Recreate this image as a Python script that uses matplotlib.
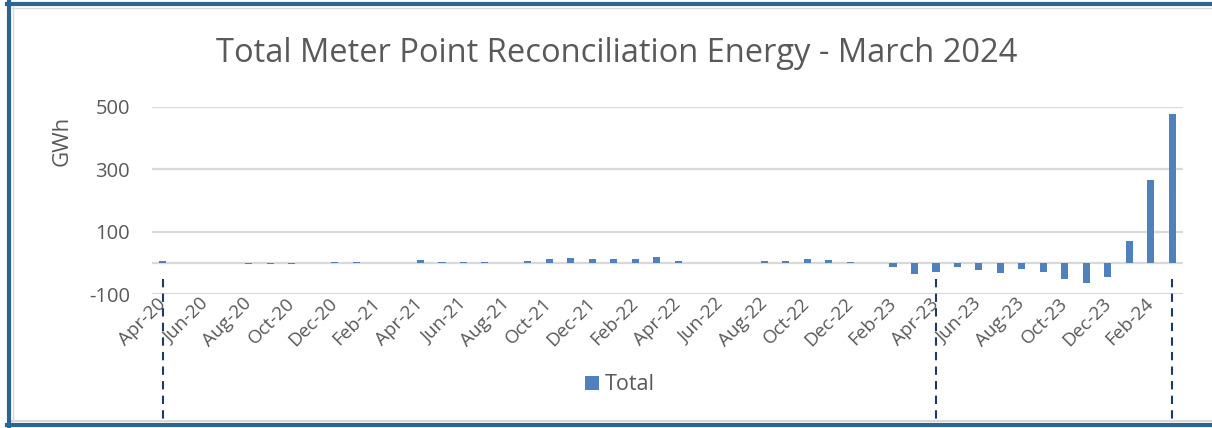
import numpy as np
import matplotlib.pyplot as plt
from matplotlib.lines import Line2D
from matplotlib.transforms import blended_transform_factory

# Monthly data, Apr-20 .. Mar-24 (GWh)
months = ['Apr-20', 'May-20', 'Jun-20', 'Jul-20', 'Aug-20', 'Sep-20', 'Oct-20', 'Nov-20',
          'Dec-20', 'Jan-21', 'Feb-21', 'Mar-21', 'Apr-21', 'May-21', 'Jun-21', 'Jul-21',
          'Aug-21', 'Sep-21', 'Oct-21', 'Nov-21', 'Dec-21', 'Jan-22', 'Feb-22', 'Mar-22',
          'Apr-22', 'May-22', 'Jun-22', 'Jul-22', 'Aug-22', 'Sep-22', 'Oct-22', 'Nov-22',
          'Dec-22', 'Jan-23', 'Feb-23', 'Mar-23', 'Apr-23', 'May-23', 'Jun-23', 'Jul-23',
          'Aug-23', 'Sep-23', 'Oct-23', 'Nov-23', 'Dec-23', 'Jan-24', 'Feb-24', 'Mar-24']
total = [5, 0, 0, 0, -3, -3, -3, 0,
         3, 3, 0, 0, 8, 4, 4, 4,
         0, 7, 11, 15, 11, 11, 11, 20,
         7, 0, 0, 0, 7, 7, 12, 8,
         4, 0, -12, -35, -31, -13, -23, -32,
         -19, -31, -51, -64, -44, 71, 267, 477]
yticks = [-100, 100, 300, 500]
marked = ['Apr-20', 'Apr-23', 'Mar-24']  # dashed marker lines

text_col = '#595959'
grid_col = '#D9D9D9'
bar_col = '#4F81BD'
frame_col = '#2E6490'
dash_col = '#1F3A5F'

plt.rcParams['font.family'] = ['Open Sans', 'DejaVu Sans']

fig = plt.figure(figsize=(12.12, 4.28), dpi=100)
ax = fig.add_axes([152 / 1212, 1 - 294 / 428, (1183 - 152) / 1212, (294 - 107) / 428])

x = np.arange(len(months))
ax.bar(x, total, width=0.33, color=bar_col, label='Total', zorder=3)

ax.set_xlim(-0.5, len(months) - 0.5)
ax.set_ylim(-100, 500)
ax.set_yticks(yticks)
ax.set_yticklabels([str(v) for v in yticks])
for v in yticks:
    ax.axhline(v, color=grid_col, lw=1.6, zorder=1)
ax.axhline(0, color=grid_col, lw=1.6, zorder=2)

ax.set_xticks(x[::2])
ax.set_xticklabels(months[::2], rotation=45, ha='right', va='center',
                   rotation_mode='anchor')
ax.tick_params(axis='x', length=0, pad=5, labelsize=13.5, labelcolor=text_col)
ax.tick_params(axis='y', length=0, pad=16, labelsize=14.5, labelcolor=text_col)
for s in ax.spines.values():
    s.set_visible(False)

ax.set_ylabel('GWh', fontsize=16, color=text_col)
ax.yaxis.set_label_coords(-79 / 1031, 0.82)

fig.text(617 / 1212, 1 - 54 / 428, 'Total Meter Point Reconciliation Energy - March 2024',
         ha='center', va='center', fontsize=23.5, color=text_col)

ax.legend(loc='center', bbox_to_anchor=(620 / 1212, 1 - 385 / 428),
          bbox_transform=fig.transFigure, frameon=False, fontsize=15.5,
          handlelength=0.65, handleheight=0.65, handletextpad=0.3,
          labelcolor=text_col)

# dashed marker lines running below the axis
tr = blended_transform_factory(ax.transData, fig.transFigure)
for m in marked:
    i = months.index(m)
    fig.add_artist(Line2D([i, i], [1 - 279 / 428, 1 - 423 / 428], transform=tr,
                          color=dash_col, lw=1.5, dashes=(4, 3)))

# frame around the chart
fig.add_artist(Line2D([12 / 1212, 1], [1 - 7.5 / 428] * 2, color=grid_col, lw=1))
fig.add_artist(Line2D([12.5 / 1212] * 2, [1 - 7 / 428, 1 - 421 / 428], color=grid_col, lw=1))
fig.add_artist(Line2D([12 / 1212, 1], [1 - 421 / 428] * 2, color=grid_col, lw=1.5))
fig.add_artist(Line2D([9 / 1212] * 2, [1 - 2 / 428, 1 - 427 / 428], color=frame_col, lw=3))
fig.add_artist(Line2D([7 / 1212, 1], [1 - 4 / 428] * 2, color=frame_col, lw=3))
fig.add_artist(Line2D([7 / 1212, 1], [1 - 425 / 428] * 2, color=frame_col, lw=3))

fig.savefig('out.png', dpi=100)
